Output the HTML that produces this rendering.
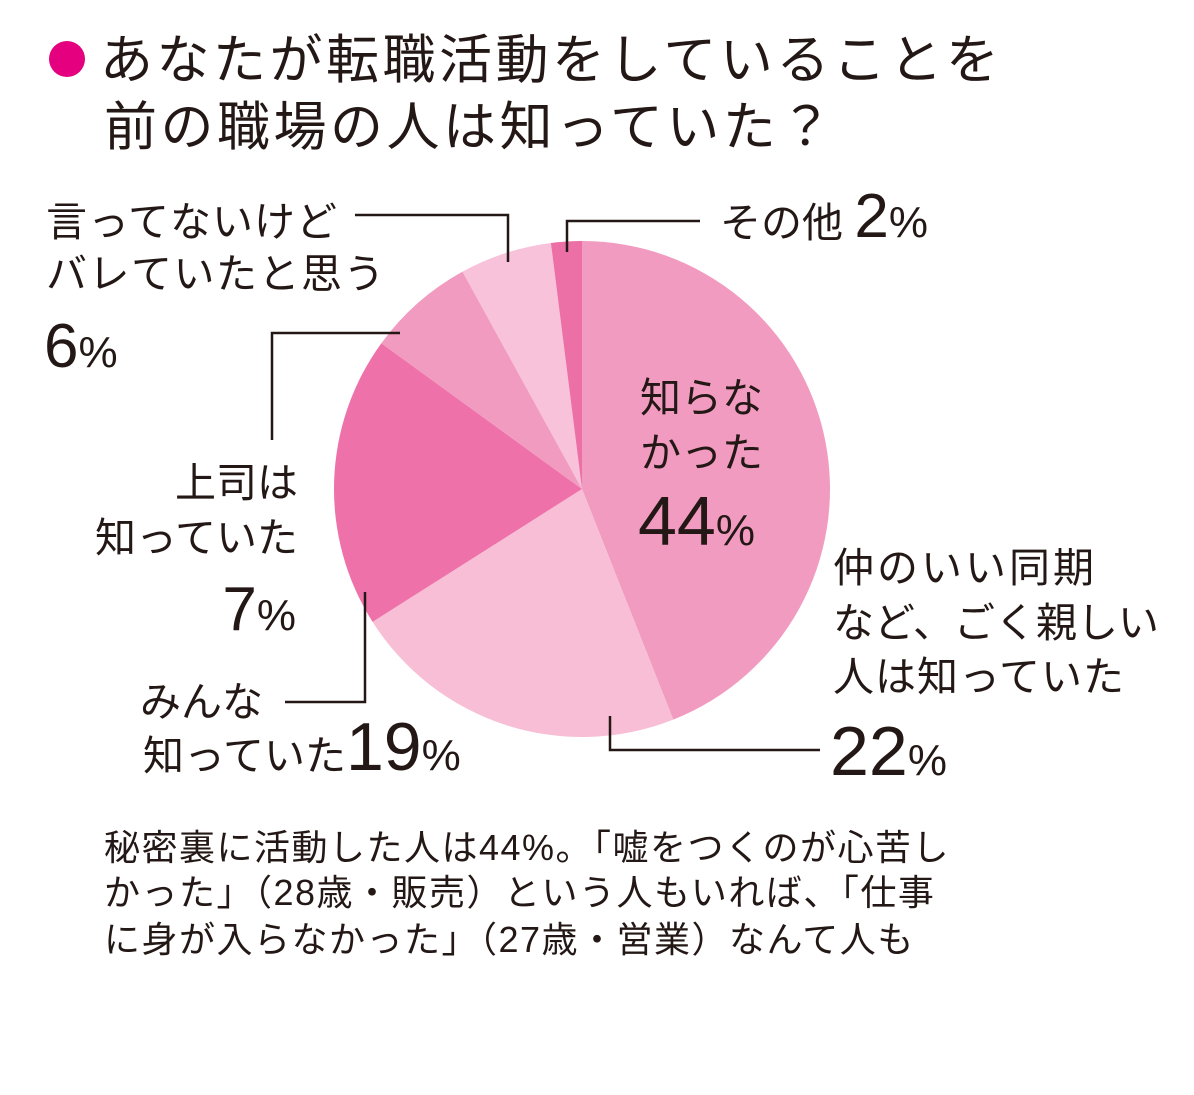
<!DOCTYPE html>
<html><head><meta charset="utf-8"><style>
body{margin:0;background:#fff;}
svg text{font-family:"Liberation Sans","Noto Sans CJK JP",sans-serif;fill:#231815;}
</style></head><body>
<svg width="1194" height="1090" viewBox="0 0 1194 1090">
<circle cx="67" cy="59" r="18" fill="#e4007f"/>
<text x="100" y="78" font-size="53" letter-spacing="3.5">あなたが転職活動をしていることを</text>
<text x="104" y="145" font-size="53" letter-spacing="3.5">前の職場の人は知っていた？</text>
<g id="pie"></g>
<g stroke="#231815" stroke-width="2.5" fill="none">
<polyline points="567,252 567,221 700,221"/>
<polyline points="355,215 508,215 508,262"/>
<polyline points="400,333 272,333 272,440"/>
<polyline points="285,702 365,702 365,592"/>
<polyline points="610,716 610,750 820,750"/>
</g>
<text x="720" y="237" font-size="41">その他 <tspan font-size="62">2</tspan><tspan font-size="44">%</tspan></text>
<text x="46" y="236" font-size="41" letter-spacing="1">言ってないけど</text>
<text x="46" y="288" font-size="41" letter-spacing="1.5">バレていたと思う</text>
<text x="44" y="367" font-size="62">6<tspan font-size="44">%</tspan></text>
<text x="298" y="497" font-size="41" text-anchor="end">上司は</text>
<text x="298" y="552" font-size="41" text-anchor="end">知っていた</text>
<text x="296" y="630" font-size="62" text-anchor="end">7<tspan font-size="44">%</tspan></text>
<text x="140" y="716" font-size="41">みんな</text>
<text x="143" y="770" font-size="41">知っていた<tspan font-size="68">19</tspan><tspan font-size="44">%</tspan></text>
<text x="640" y="412" font-size="41">知らな</text>
<text x="640" y="467" font-size="41">かった</text>
<text x="638" y="545" font-size="70">44<tspan font-size="44">%</tspan></text>
<text x="833" y="582" font-size="41" letter-spacing="3">仲のいい同期</text>
<text x="833" y="637" font-size="41">など、ごく親しい</text>
<text x="833" y="691" font-size="41" letter-spacing="1">人は知っていた</text>
<text x="830" y="775" font-size="70">22<tspan font-size="44">%</tspan></text>
<text x="104" y="860" font-size="36" letter-spacing="1.5">秘密裏に活動した人は44%。「嘘をつくのが心苦し</text>
<text x="104" y="905" font-size="36" letter-spacing="1.5">かった」（28歳・販売）という人もいれば、「仕事</text>
<text x="104" y="952" font-size="36" letter-spacing="1.5">に身が入らなかった」（27歳・営業）なんて人も</text>
</svg>
<script>
const categories=["知らなかった","仲のいい同期など","みんな知っていた","上司は知っていた","バレていたと思う","その他"];
const values=[44,22,19,7,6,2];
const colors=["#f29bc0","#f7bed6","#ee72a9","#f29bc0","#f7c2da","#ec6fa6"];
const cx=582,cy=489,r=248;
const g=document.getElementById('pie');
const total=values.reduce((a,b)=>a+b,0);
let a0=0;
function pt(a){return [cx+r*Math.sin(a),cy-r*Math.cos(a)];}
values.forEach((v,i)=>{
  const a1=a0+v/total*2*Math.PI;
  const p0=pt(a0),p1=pt(a1);
  const large=(a1-a0)>Math.PI?1:0;
  const p=document.createElementNS('http://www.w3.org/2000/svg','path');
  p.setAttribute('d',`M${cx},${cy}L${p0[0]},${p0[1]}A${r},${r} 0 ${large} 1 ${p1[0]},${p1[1]}Z`);
  p.setAttribute('fill',colors[i]);
  
  
  g.appendChild(p);
  a0=a1;
});
</script>
</body></html>
